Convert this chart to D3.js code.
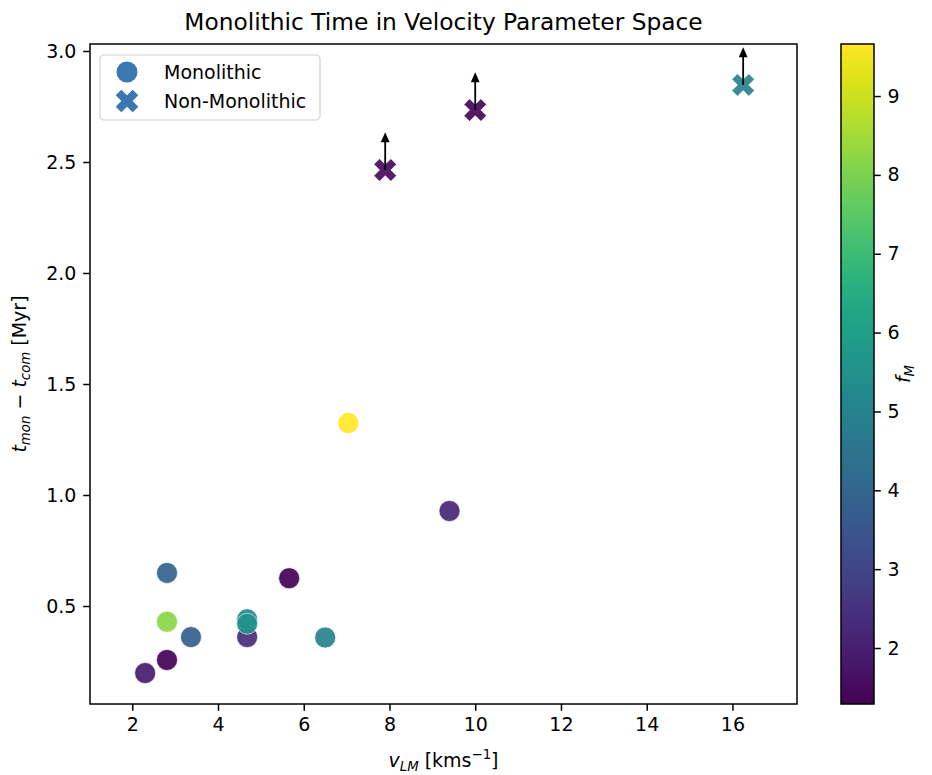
<!DOCTYPE html>
<html>
<head>
<meta charset="utf-8">
<script src="https://cdn.jsdelivr.net/npm/d3@7"></script>
<style>
  html, body { margin: 0; padding: 0; background: #fff; }
  svg { display: block; font-family: "DejaVu Sans", sans-serif; }
</style>
</head>
<body>
<svg id="chart" width="932" height="775"></svg>
<script>
// ---- data ----
const monoV = [2.30, 2.81, 2.81, 2.81, 3.37, 4.68, 4.68, 4.68, 5.66, 6.50, 7.04, 9.40];
const monoT = [0.198, 0.257, 0.649, 0.429, 0.360, 0.360, 0.440, 0.420, 0.625, 0.358, 1.324, 0.928];
const monoF = [1.9, 1.35, 3.9, 8.2, 3.8, 2.4, 5.3, 5.5, 1.3, 5.0, 9.66, 2.2];

const nonV = [7.90, 10.00, 16.25];
const nonT = [2.464, 2.734, 2.847];
const nonF = [1.5, 1.45, 5.0];
const nonArrowTip = [2.634, 2.904, 3.017];

const xTicks = [2, 4, 6, 8, 10, 12, 14, 16];
const yTicks = [0.5, 1.0, 1.5, 2.0, 2.5, 3.0];
const cTicks = [2, 3, 4, 5, 6, 7, 8, 9];
const legendLabels = ["Monolithic", "Non-Monolithic"];
const titleText = "Monolithic Time in Velocity Parameter Space";

// ---- layout ----
const L = 90, R = 797, T = 44, B = 704;
const CBL = 841, CBR = 874;
const FS = 19;

const svg = d3.select("#chart");
const x = d3.scaleLinear().domain([1.014, 17.506]).range([L, R]);
const y = d3.scaleLinear().domain([0.0586, 3.0315]).range([B, T]);
const c = d3.scaleSequential(d3.interpolateViridis).domain([1.29, 9.66]);
const cy = d3.scaleLinear().domain([1.29, 9.66]).range([B, T]);

// Title
svg.append("text").attr("x", (L + R) / 2).attr("y", 30)
  .attr("text-anchor", "middle").attr("font-size", 23.3).attr("fill", "#000")
  .text(titleText);

// Axes
const xAxis = d3.axisBottom(x).tickValues(xTicks).tickSize(6.8).tickPadding(6.8).tickFormat(d3.format("d"));
const yAxis = d3.axisLeft(y).tickValues(yTicks).tickSize(6.8).tickPadding(6.8).tickFormat(d3.format(".1f"));
const gx = svg.append("g").attr("transform", `translate(0,${B})`).call(xAxis);
const gy = svg.append("g").attr("transform", `translate(${L},0)`).call(yAxis);
[gx, gy].forEach(g => {
  g.select(".domain").remove();
  g.selectAll("line").attr("stroke", "#000").attr("stroke-width", 1.5);
  g.selectAll("text").attr("font-size", FS).attr("fill", "#000").attr("font-family", "DejaVu Sans");
});

// Frame
svg.append("rect").attr("x", L).attr("y", T).attr("width", R - L).attr("height", B - T)
  .attr("fill", "none").attr("stroke", "#000").attr("stroke-width", 1.5);

// X marker path
function xPath(u) {
  const pts = [[-0.5,-1.5],[0.5,-1.5],[0.5,-0.5],[1.5,-0.5],[1.5,0.5],[0.5,0.5],[0.5,1.5],[-0.5,1.5],[-0.5,0.5],[-1.5,0.5],[-1.5,-0.5],[-0.5,-0.5]];
  const a = Math.PI / 4;
  return "M" + pts.map(([px, py]) => {
    const rx = px * Math.cos(a) - py * Math.sin(a);
    const ry = px * Math.sin(a) + py * Math.cos(a);
    return (rx * u).toFixed(2) + "," + (ry * u).toFixed(2);
  }).join("L") + "Z";
}

const plot = svg.append("g");

// Monolithic points
plot.selectAll("circle.mono").data(monoV.map((v, i) => ({ v, t: monoT[i], f: monoF[i] })))
  .enter().append("circle").attr("class", "mono")
  .attr("cx", d => x(d.v)).attr("cy", d => y(d.t)).attr("r", 10.5)
  .attr("fill", d => c(d.f)).attr("fill-opacity", 0.92)
  .attr("stroke", "#fff").attr("stroke-width", 0.6);

// Non-monolithic points
const nonData = nonV.map((v, i) => ({ v, t: nonT[i], f: nonF[i], tip: nonArrowTip[i] }));
plot.selectAll("path.non").data(nonData).enter().append("path").attr("class", "non")
  .attr("transform", d => `translate(${x(d.v)},${y(d.t)})`)
  .attr("d", xPath(8))
  .attr("fill", d => c(d.f)).attr("fill-opacity", 0.92)
  .attr("stroke", "#fff").attr("stroke-width", 0.6);

// Arrows
const defs = svg.append("defs");
const arrows = plot.selectAll("g.arrow").data(nonData).enter().append("g").attr("class", "arrow");
arrows.append("line")
  .attr("x1", d => x(d.v)).attr("x2", d => x(d.v))
  .attr("y1", d => y(d.t)).attr("y2", d => y(d.tip) + 8)
  .attr("stroke", "#000").attr("stroke-width", 1.8);
arrows.append("path")
  .attr("d", d => {
    const px = x(d.v), py = y(d.tip);
    return `M${px},${py}L${px - 4.4},${py + 10}L${px + 4.4},${py + 10}Z`;
  })
  .attr("fill", "#000");

// Legend
const lg = svg.append("g");
lg.append("rect").attr("x", 100).attr("y", 55).attr("width", 220).attr("height", 65)
  .attr("rx", 4).attr("fill", "#fff").attr("fill-opacity", 0.8)
  .attr("stroke", "#d0d0d0").attr("stroke-width", 1.2);
const legCol = "#3b77b1";
lg.append("circle").attr("cx", 127).attr("cy", 72).attr("r", 10.5).attr("fill", legCol);
lg.append("path").attr("transform", "translate(127,101)").attr("d", xPath(8)).attr("fill", legCol);
legendLabels.forEach((t, i) => {
  lg.append("text").attr("x", 164).attr("y", 79 + i * 29).attr("font-size", FS).attr("fill", "#000").text(t);
});

// Axis labels
const xl = svg.append("text").attr("x", (L + R) / 2).attr("y", 767).attr("text-anchor", "middle")
  .attr("font-size", FS).attr("fill", "#000");
xl.append("tspan").attr("font-style", "italic").text("v");
xl.append("tspan").attr("font-style", "italic").attr("font-size", FS * 0.7).attr("dy", 4).text("LM");
xl.append("tspan").attr("dy", -4).text(" [kms");
xl.append("tspan").attr("font-size", FS * 0.7).attr("dy", -8).text("−1");
xl.append("tspan").attr("dy", 8).text("]");

const yl = svg.append("text").attr("transform", `translate(26,${(T + B) / 2}) rotate(-90)`)
  .attr("text-anchor", "middle").attr("font-size", FS).attr("fill", "#000");
yl.append("tspan").attr("font-style", "italic").text("t");
yl.append("tspan").attr("font-style", "italic").attr("font-size", FS * 0.7).attr("dy", 4).text("mon");
yl.append("tspan").attr("dy", -4).text(" − ");
yl.append("tspan").attr("font-style", "italic").text("t");
yl.append("tspan").attr("font-style", "italic").attr("font-size", FS * 0.7).attr("dy", 4).text("com");
yl.append("tspan").attr("dy", -4).text(" [Myr]");

// Colorbar
const grad = defs.append("linearGradient").attr("id", "vir").attr("x1", 0).attr("x2", 0).attr("y1", 1).attr("y2", 0);
d3.range(0, 1.0001, 0.02).forEach(s => {
  grad.append("stop").attr("offset", s).attr("stop-color", d3.interpolateViridis(s));
});
svg.append("rect").attr("x", CBL).attr("y", T).attr("width", CBR - CBL).attr("height", B - T)
  .attr("fill", "url(#vir)").attr("stroke", "#000").attr("stroke-width", 1.5);
const cAxis = d3.axisRight(cy).tickValues(cTicks).tickSize(6.8).tickPadding(6.8).tickFormat(d3.format("d"));
const gc = svg.append("g").attr("transform", `translate(${CBR},0)`).call(cAxis);
gc.select(".domain").remove();
gc.selectAll("line").attr("stroke", "#000").attr("stroke-width", 1.5);
gc.selectAll("text").attr("font-size", FS).attr("fill", "#000").attr("font-family", "DejaVu Sans");

const cl = svg.append("text").attr("transform", `translate(910,${(T + B) / 2}) rotate(-90)`)
  .attr("text-anchor", "middle").attr("font-size", FS).attr("fill", "#000");
cl.append("tspan").attr("font-style", "italic").text("f");
cl.append("tspan").attr("font-style", "italic").attr("font-size", FS * 0.7).attr("dy", 4).text("M");
</script>
</body>
</html>
